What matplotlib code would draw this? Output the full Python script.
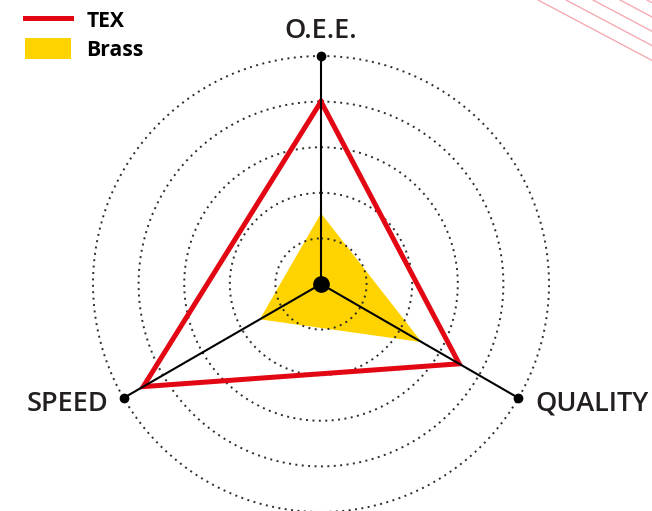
import matplotlib.pyplot as plt
import numpy as np
from matplotlib.lines import Line2D
from matplotlib.patches import Patch

plt.rcParams['font.family'] = ['Open Sans', 'DejaVu Sans']

categories = ['O.E.E.', 'QUALITY', 'SPEED']
tex = [80, 70, 90]
brass = [31, 51, 31]
rings = [20, 40, 60, 80, 100]

red = '#e30613'
yellow = '#ffd300'
ink = '#231f20'

W, H = 652, 511
cx, cy, R = 321, 284, 228

fig = plt.figure(figsize=(W / 100, H / 100), dpi=100)

# background decoration, top right corner
deco = fig.add_axes([0, 0, 1, 1])
deco.set_xlim(0, W)
deco.set_ylim(H, 0)
deco.axis('off')
for x0 in [538, 566, 593, 620, 647]:
    deco.plot([x0, x0 + 130], [0, 0.53 * 130], color='#f5a3ac', lw=0.9)

ax = fig.add_axes([(cx - R) / W, (H - cy - R) / H, 2 * R / W, 2 * R / H],
                  projection='polar')
ax.set_theta_zero_location('N')
ax.set_theta_direction(-1)
ax.set_ylim(0, 100)
ax.axis('off')

angles = np.linspace(0, 2 * np.pi, len(categories), endpoint=False)
closed = np.append(angles, angles[0])

ax.fill(closed, brass + brass[:1], color=yellow, lw=0, zorder=1)

t = np.linspace(0, 2 * np.pi, 400)
for r in rings:
    ax.plot(t, np.full_like(t, r), color='#2b2b2b', lw=1.4,
            ls=(0, (1, 2.3)), zorder=2, clip_on=False)

ax.plot(closed, tex + tex[:1], color=red, lw=3.6, solid_joinstyle='miter',
        zorder=3, clip_on=False)

for a in angles:
    ax.plot([a, a], [0, 100], color='black', lw=1.5, zorder=4, clip_on=False)
ax.plot(angles, [100] * len(angles), 'o', color='black', ms=6, zorder=5,
        clip_on=False)
ax.plot([0], [0], 'o', color='black', ms=11, zorder=5)

offsets = [(0, 8), (12, -4), (-11, -4)]
aligns = [('center', 'bottom'), ('left', 'center'), ('right', 'center')]
for a, lab, off, (ha, va) in zip(angles, categories, offsets, aligns):
    ax.annotate(lab, xy=(a, 100), xytext=off, textcoords='offset points',
                ha=ha, va=va, fontsize=19.5, fontweight='semibold', color=ink,
                annotation_clip=False)

handles = [Line2D([], [], color=red, lw=3.6),
           Patch(facecolor=yellow, edgecolor='none')]
fig.legend(handles, ['TEX', 'Brass'], loc='upper left',
           bbox_to_anchor=(25 / W, 1 - 9 / H), frameon=False, borderpad=0,
           borderaxespad=0, handlelength=2.2, handleheight=1.15,
           handletextpad=0.7, labelspacing=0.3,
           prop={'weight': 'bold', 'size': 15.2})

fig.savefig('out.png', dpi=100)
